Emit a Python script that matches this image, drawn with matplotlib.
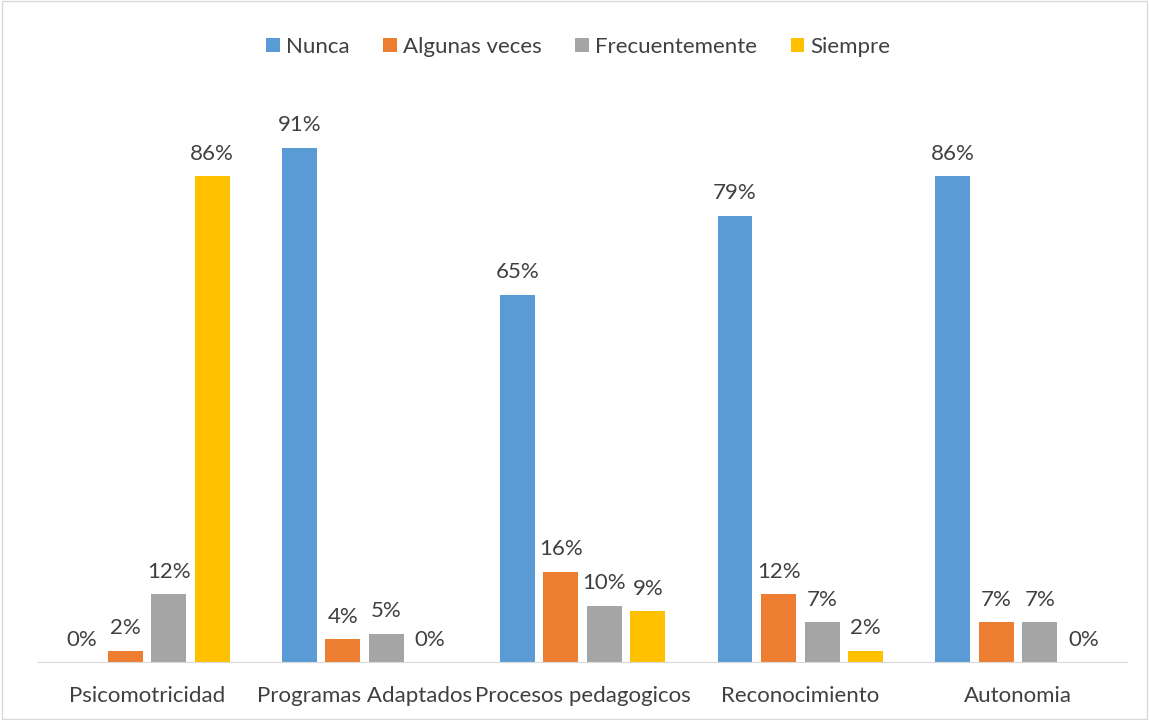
import matplotlib.pyplot as plt
import numpy as np

plt.rcParams['font.family'] = ['Lato', 'DejaVu Sans']

categorias = ["Psicomotricidad", "Programas Adaptados", "Procesos pedagogicos",
              "Reconocimiento", "Autonomia"]
series = ["Nunca", "Algunas veces", "Frecuentemente", "Siempre"]
nunca = [0, 91, 65, 79, 86]
algunas = [2, 4, 16, 12, 7]
frecuente = [12, 5, 10, 7, 7]
siempre = [86, 0, 9, 2, 0]
colores = ["#5B9BD5", "#ED7D31", "#A5A5A5", "#FFC000"]

valores = [nunca, algunas, frecuente, siempre]

fig = plt.figure(figsize=(11.49, 7.2), dpi=100)
ax = fig.add_axes([38/1149, 1 - 662/720, 1089/1149, 565/720])

x = np.arange(len(categorias))
paso = 0.2
ancho = 0.16
texto = "#404040"
for i, (nombre, vals, c) in enumerate(zip(series, valores, colores)):
    pos = x + (i - 1.5) * paso
    ax.bar(pos, vals, ancho, color=c, label=nombre)
    for p, v in zip(pos, vals):
        ax.text(p, v + 2.2, f"{v}%", ha="center", va="bottom", fontsize=16, color=texto)

ax.set_xlim(-0.5, len(categorias) - 0.5)
ax.set_ylim(0, 100)
ax.set_xticks(x)
ax.set_xticklabels(categorias, fontsize=16, color=texto)
ax.tick_params(axis="x", length=0, pad=17)
ax.set_yticks([])
for s in ["top", "left", "right"]:
    ax.spines[s].set_visible(False)
ax.spines["bottom"].set_color("#D9D9D9")

fig.legend(loc="upper center", bbox_to_anchor=(0.5 + 4/1149, 1 - 17/720), ncol=4, frameon=False,
           fontsize=16, handlelength=0.6, handleheight=0.6, columnspacing=1.5,
           handletextpad=0.3, labelcolor=texto)

borde = plt.Rectangle((0.002, 0.002), 0.996, 0.996, transform=fig.transFigure,
                      fill=False, edgecolor="#D9D9D9", linewidth=1)
fig.patches.append(borde)

fig.savefig("out.png", dpi=100)
